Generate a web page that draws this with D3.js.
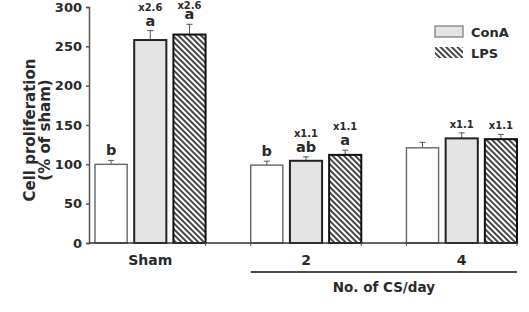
<!DOCTYPE html>
<html>
<head>
<meta charset="utf-8">
<script src="https://cdn.jsdelivr.net/npm/d3@7"></script>
<style>
  body { margin: 0; background: #fff; }
  text { font-family: "DejaVu Sans", sans-serif; font-weight: bold; fill: #2a2a2a; }
</style>
</head>
<body>
<div class="chart"></div>
<script>
const groups = ["Sham", "2", "4"]
const series = ["Control", "ConA", "LPS"]

// mean and SE, % of sham
const control = [100, 99, 121]
const controlErr = [5, 5, 7]
const conA = [258, 104.5, 133]
const conAErr = [12, 5, 7]
const lps = [265, 112, 132]
const lpsErr = [13, 6, 6]

const controlLetters = ["b", "b", ""]
const conALetters = ["a", "ab", ""]
const lpsLetters = ["a", "a", ""]
const conAFold = ["x2.6", "x1.1", "x1.1"]
const lpsFold = ["x2.6", "x1.1", "x1.1"]

const yTicks = [0, 50, 100, 150, 200, 250, 300]

const width = 529, height = 312

const svg = d3.select(".chart").append("svg")
  .attr("width", width)
  .attr("height", height)

const defs = svg.append("defs")
defs.append("pattern")
  .attr("id", "hatch")
  .attr("patternUnits", "userSpaceOnUse")
  .attr("width", 4).attr("height", 4)
  .attr("patternTransform", "rotate(-45)")
  .call(p => {
    p.append("rect").attr("width", 4).attr("height", 4).attr("fill", "#fff")
    p.append("line").attr("x1", 1).attr("x2", 1).attr("y1", 0).attr("y2", 4)
      .attr("stroke", "#333").attr("stroke-width", 1.8)
  })

const y = d3.scaleLinear().domain([0, 300]).range([243, 7])
const x = d3.scaleBand().domain(groups).range([95, 517]).paddingInner(0.29).paddingOuter(0)
const xs = d3.scaleBand().domain(series).range([0, x.bandwidth()]).paddingInner(0.18)

const styles = {
  Control: {fill: "#fff", stroke: "#666", sw: 1.4},
  ConA: {fill: "#e4e4e4", stroke: "#222", sw: 2},
  LPS: {fill: "url(#hatch)", stroke: "#111", sw: 2}
}

const rows = []
groups.forEach((g, i) => {
  rows.push({g, s: "Control", v: control[i], e: controlErr[i], letter: controlLetters[i], fold: ""})
  rows.push({g, s: "ConA", v: conA[i], e: conAErr[i], letter: conALetters[i], fold: conAFold[i]})
  rows.push({g, s: "LPS", v: lps[i], e: lpsErr[i], letter: lpsLetters[i], fold: lpsFold[i]})
})

const cx = d => x(d.g) + xs(d.s) + xs.bandwidth() / 2
const letterY = d => y(d.v + d.e) - 5
// fold text sits over the letter; kept inside the top edge
const foldY = d => d.letter ? Math.max(9, letterY(d) - 15) : y(d.v + d.e) - 5

// error bars
const eb = svg.append("g").attr("stroke", "#555").attr("stroke-width", 1)
eb.selectAll(".stem").data(rows).enter().append("line")
  .attr("x1", cx).attr("x2", cx)
  .attr("y1", d => y(d.v)).attr("y2", d => y(d.v + d.e))
eb.selectAll(".cap").data(rows).enter().append("line")
  .attr("x1", d => cx(d) - 3).attr("x2", d => cx(d) + 3)
  .attr("y1", d => y(d.v + d.e)).attr("y2", d => y(d.v + d.e))

svg.append("g").selectAll("rect").data(rows).enter().append("rect")
  .attr("x", d => x(d.g) + xs(d.s))
  .attr("y", d => y(d.v))
  .attr("width", xs.bandwidth())
  .attr("height", d => y(0) - y(d.v))
  .attr("fill", d => styles[d.s].fill)
  .attr("stroke", d => styles[d.s].stroke)
  .attr("stroke-width", d => styles[d.s].sw)

// significance letters and fold change
svg.append("g").selectAll("text").data(rows.filter(d => d.letter)).enter().append("text")
  .attr("x", cx).attr("y", letterY)
  .attr("text-anchor", "middle").style("font-size", "14.5px")
  .text(d => d.letter)
svg.append("g").selectAll("text").data(rows.filter(d => d.fold)).enter().append("text")
  .attr("x", cx).attr("y", foldY)
  .attr("text-anchor", "middle").style("font-size", "10px")
  .text(d => d.fold)

// y axis
const yAxis = d3.axisLeft(y).tickValues(yTicks).tickSize(3).tickPadding(4)
svg.append("g")
  .attr("transform", "translate(89,0)")
  .call(yAxis)
  .call(g => g.selectAll("path, line").attr("stroke", "#555").attr("stroke-width", 1.5))
  .call(g => g.selectAll("text").style("font-size", "13px").attr("fill", "#2a2a2a")
    .style("font-family", "DejaVu Sans").style("font-weight", "bold"))

// x axis line and ticks
svg.append("line").attr("x1", 89).attr("x2", 517).attr("y1", y(0)).attr("y2", y(0))
  .attr("stroke", "#333").attr("stroke-width", 1.5)
const xTickPos = []
groups.forEach((g, i) => {
  if (i > 0) xTickPos.push(x(g))
  xTickPos.push(x(g) + x.bandwidth())
})
svg.append("g").selectAll("line").data(xTickPos).enter().append("line")
  .attr("x1", d => d).attr("x2", d => d)
  .attr("y1", y(0)).attr("y2", y(0) + 3)
  .attr("stroke", "#555").attr("stroke-width", 1)

svg.append("g").selectAll("text").data(groups).enter().append("text")
  .attr("x", d => x(d) + x.bandwidth() / 2).attr("y", 265)
  .attr("text-anchor", "middle").style("font-size", "14px")
  .text(d => d)

svg.append("line")
  .attr("x1", x("2")).attr("x2", x("4") + x.bandwidth())
  .attr("y1", 272).attr("y2", 272)
  .attr("stroke", "#111").attr("stroke-width", 1.5)
svg.append("text")
  .attr("x", (x("2") + x("4") + x.bandwidth()) / 2).attr("y", 292)
  .attr("text-anchor", "middle").style("font-size", "13.5px")
  .text("No. of CS/day")

// y label
const yl = svg.append("text")
  .attr("transform", "translate(35,130) rotate(-90)")
  .attr("text-anchor", "middle").style("font-size", "15px")
yl.append("tspan").attr("x", 0).attr("dy", 0).text("Cell proliferation")
yl.append("tspan").attr("x", 0).attr("dy", 14.5).text("(% of sham)")

// legend
const legend = svg.append("g").attr("transform", "translate(435,26)")
legend.append("rect").attr("width", 28).attr("height", 11)
  .attr("fill", "#e4e4e4").attr("stroke", "#777").attr("stroke-width", 1.2)
legend.append("rect").attr("y", 21).attr("width", 28).attr("height", 11)
  .attr("fill", "url(#hatch)")
legend.append("text").attr("x", 36).attr("y", 10.5).style("font-size", "13px").text("ConA")
legend.append("text").attr("x", 36).attr("y", 31.5).style("font-size", "13px").text("LPS")
</script>
</body>
</html>
